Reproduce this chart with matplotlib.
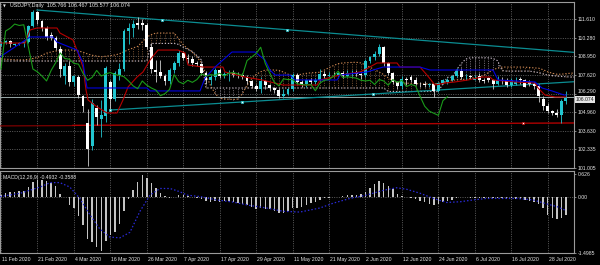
import matplotlib
matplotlib.use('Agg')
import matplotlib.pyplot as plt
import matplotlib.transforms as mtrans
import numpy as np

plt.rcParams['font.family'] = ['Liberation Sans', 'DejaVu Sans']

# ---------------- data ----------------
SYMBOL = 'USDJPY,Daily'
LAST_OHLC = '105.766 106.467 105.577 106.074'
DATES = ['11 Feb 2020', '21 Feb 2020', '4 Mar 2020', '16 Mar 2020', '26 Mar 2020',
         '7 Apr 2020', '17 Apr 2020', '29 Apr 2020', '11 May 2020', '21 May 2020',
         '2 Jun 2020', '12 Jun 2020', '24 Jun 2020', '6 Jul 2020', '16 Jul 2020', '28 Jul 2020']
DATE_BARS = [0, 8, 16, 24, 32, 40, 48, 56, 64, 72, 80, 88, 96, 104, 112, 120]

OPEN = [109.78, 109.92, 110.06, 109.76, 109.80, 109.88, 109.95, 111.12, 112.08, 111.45,
        110.95, 110.45, 110.25, 109.50, 107.55, 108.30, 107.15, 107.50, 106.10, 104.20,
        102.60, 105.30, 104.50, 104.70, 107.10, 105.90, 107.60, 108.05, 110.75, 110.95,
        111.30, 111.35, 111.20, 109.65, 108.00, 107.85, 107.55, 107.20, 107.95, 108.50,
        109.20, 108.80, 108.75, 108.45, 108.40, 107.75, 107.25, 107.45, 107.95, 107.55,
        107.70, 107.80, 107.65, 107.60, 107.50, 107.20, 106.85, 106.65, 107.20, 106.90,
        106.70, 106.55, 106.15, 106.30, 106.60, 107.65, 107.15, 107.00, 107.25, 107.10,
        107.30, 107.70, 107.55, 107.65, 107.60, 107.75, 107.55, 107.75, 107.80, 107.70,
        107.60, 108.65, 108.90, 109.15, 109.60, 108.45, 107.75, 107.10, 106.85, 107.35,
        107.45, 107.30, 107.00, 106.95, 106.90, 106.95, 106.50, 107.05, 107.15, 107.30,
        107.55, 107.90, 107.45, 107.55, 107.30, 107.55, 107.30, 107.40, 107.25, 106.95,
        107.30, 107.25, 106.90, 106.95, 107.35, 107.25, 107.15, 106.95, 106.85, 105.90,
        105.40, 105.05, 104.90, 104.75, 105.766]
HIGH = [110.02, 110.15, 110.13, 109.90, 109.95, 110.05, 111.20, 112.23, 112.15, 111.52,
        111.10, 110.70, 110.40, 109.70, 108.50, 108.60, 107.65, 107.65, 106.20, 105.20,
        105.90, 105.50, 105.85, 108.30, 107.30, 107.90, 108.50, 110.90, 111.30, 111.55,
        111.72, 111.60, 111.30, 109.90, 108.70, 108.70, 107.70, 108.10, 108.65, 109.40,
        109.35, 109.10, 109.00, 108.60, 108.45, 107.90, 107.65, 108.10, 108.10, 107.85,
        107.95, 107.95, 107.85, 107.80, 107.60, 107.25, 106.95, 107.50, 107.30, 107.00,
        106.80, 106.70, 106.60, 106.70, 107.75, 107.75, 107.30, 107.35, 107.40, 107.40,
        108.05, 107.90, 107.85, 107.85, 107.85, 107.90, 107.95, 107.95, 107.95, 107.80,
        108.75, 109.00, 109.30, 109.85, 109.70, 108.55, 107.85, 107.20, 107.55, 107.50,
        107.65, 107.45, 107.10, 107.20, 107.05, 107.00, 107.10, 107.35, 107.40, 107.60,
        108.15, 108.15, 107.70, 107.65, 107.60, 107.75, 107.40, 107.50, 107.35, 107.55,
        107.45, 107.40, 107.40, 107.45, 107.45, 107.35, 107.30, 107.10, 106.95, 106.10,
        105.60, 105.10, 105.20, 105.90, 106.467]
LOW = [109.68, 109.85, 109.65, 109.70, 109.74, 109.65, 109.90, 111.05, 111.25, 110.75,
       110.10, 110.10, 109.40, 107.50, 107.00, 106.85, 106.85, 106.00, 105.00, 101.18,
       102.30, 104.10, 103.20, 104.30, 105.15, 105.80, 107.30, 107.90, 109.80, 110.30,
       110.90, 110.80, 109.50, 107.80, 107.10, 107.40, 106.90, 107.00, 107.80, 108.30,
       108.70, 108.50, 108.30, 108.30, 107.60, 107.00, 106.90, 107.30, 107.40, 107.40,
       107.20, 107.50, 107.40, 107.35, 107.00, 106.70, 106.50, 106.35, 106.60, 106.50,
       106.35, 105.98, 106.00, 106.20, 106.50, 107.00, 106.80, 106.80, 106.95, 107.00,
       107.20, 107.40, 107.45, 107.50, 107.55, 107.40, 107.50, 107.55, 107.55, 107.35,
       107.50, 108.50, 108.70, 109.00, 108.30, 107.60, 106.95, 106.60, 106.60, 106.90,
       107.15, 106.90, 106.80, 106.80, 106.75, 106.07, 106.40, 106.95, 107.00, 107.20,
       107.45, 107.35, 107.30, 107.40, 107.25, 107.15, 107.05, 107.10, 106.65, 106.90,
       107.00, 106.75, 106.80, 106.90, 107.00, 106.75, 106.85, 106.65, 105.70, 105.15,
       104.95, 104.75, 104.60, 104.19, 105.577]
CLOSE = [109.92, 110.06, 109.82, 109.84, 109.88, 109.95, 111.12, 112.08, 111.55, 110.95,
         110.30, 110.25, 109.55, 108.05, 108.30, 107.15, 107.55, 106.20, 105.40, 102.35,
         105.60, 104.60, 104.80, 108.10, 105.90, 107.75, 108.05, 110.75, 110.95, 111.25,
         111.15, 111.20, 109.65, 108.05, 107.85, 107.55, 107.20, 107.95, 108.50, 109.20,
         108.80, 108.75, 108.45, 108.40, 107.75, 107.25, 107.45, 107.95, 107.55, 107.70,
         107.80, 107.65, 107.60, 107.50, 107.20, 106.85, 106.65, 107.20, 106.90, 106.70,
         106.55, 106.15, 106.30, 106.60, 107.65, 107.15, 107.00, 107.25, 107.10, 107.30,
         107.70, 107.55, 107.65, 107.60, 107.75, 107.55, 107.75, 107.80, 107.70, 107.60,
         108.65, 108.90, 109.15, 109.60, 108.45, 107.75, 107.10, 106.85, 107.35, 107.30,
         107.30, 107.00, 106.95, 106.90, 106.95, 106.50, 107.05, 107.25, 107.30, 107.55,
         107.90, 107.45, 107.50, 107.45, 107.40, 107.25, 107.20, 107.25, 106.95, 107.30,
         107.20, 106.90, 107.30, 107.10, 107.25, 106.80, 106.95, 106.85, 106.10, 105.40,
         105.05, 104.90, 104.75, 105.80, 106.074]

# Ichimoku lines (bar index, price)
TENKAN_X = [-0.22, 5.27, 6.37, 7.90, 12.29, 12.95, 15.80, 16.90, 18.00, 18.66, 19.10, 21.07,
            23.27, 25.46, 26.78, 27.88, 29.85, 31.17, 32.70, 34.46, 38.85, 40.39, 41.04, 44.34,
            48.73, 49.17, 53.56, 57.29, 61.90, 69.36, 70.02, 74.41, 78.80, 80.55, 82.53, 86.92,
            87.58, 91.97, 93.50, 95.26, 97.45, 99.65, 102.50, 105.57, 107.33, 107.99, 112.82,
            117.21, 117.87, 119.40, 121.60, 124.0]
TENKAN_Y = [109.90, 109.90, 110.83, 110.97, 110.97, 110.61, 110.12, 109.19, 108.19, 106.56,
            105.85, 105.35, 104.92, 104.92, 105.85, 106.77, 107.48, 107.84, 108.69, 109.40,
            109.40, 109.19, 108.34, 108.19, 108.19, 107.84, 107.48, 107.27, 106.91, 106.91,
            107.27, 107.62, 107.84, 108.12, 108.48, 108.48, 108.19, 108.19, 107.62, 106.91,
            107.05, 107.13, 107.27, 107.48, 107.48, 107.27, 107.13, 107.05, 106.70, 106.20,
            106.06, 106.06]
KIJUN_X = [-0.22, 6.37, 11.41, 12.29, 16.68, 18.00, 18.88, 32.05, 32.70, 43.68, 44.78, 46.97,
           50.70, 55.75, 57.95, 59.04, 60.14, 63.43, 64.53, 73.75, 74.41, 80.33, 83.85, 91.97,
           94.16, 107.99, 109.09, 117.21, 118.75, 120.94, 123.57, 124.0]
KIJUN_Y = [108.91, 110.33, 110.33, 109.97, 109.40, 108.48, 106.70, 106.70, 106.49, 106.49,
           107.41, 108.19, 109.26, 109.26, 108.69, 107.98, 107.62, 107.62, 107.27, 107.27,
           107.62, 107.84, 108.19, 108.19, 107.98, 107.98, 107.27, 107.13, 106.70, 106.49,
           106.20, 106.20]
CHIKOU_SHIFT = 26
SPAN_A = [108.76, 108.75, 108.73, 108.71, 108.70, 108.70, 108.74, 108.80, 108.87, 109.03,
          109.18, 109.26, 109.33, 109.38, 109.40, 109.40, 109.40, 109.33, 109.25, 109.12,
          109.03, 108.97, 108.92, 108.96, 109.00, 109.05, 109.13, 109.28, 109.43, 109.55,
          109.66, 109.98, 110.33, 110.50, 110.61, 110.61, 110.61, 110.61, 110.61, 110.20,
          109.77, 109.50, 109.24, 108.90, 108.50, 107.60, 106.87, 106.30, 105.97, 105.92,
          105.90, 105.88, 105.91, 106.30, 106.90, 107.35, 107.66, 107.85, 107.98, 107.98,
          107.98, 107.95, 107.83, 107.68, 107.58, 107.62, 107.68, 107.74, 107.78, 107.80,
          107.82, 107.98, 108.15, 108.30, 108.43, 108.48, 108.50, 108.52, 108.53, 108.48,
          108.35, 108.18, 108.00, 107.84, 107.65, 107.42, 107.21, 107.10, 107.05, 107.04,
          107.03, 107.01, 107.00, 106.99, 106.98, 107.00, 107.03, 107.10, 107.16, 107.23,
          107.29, 107.31, 107.32, 107.38, 107.44, 107.50, 107.60, 107.80, 108.00, 108.12,
          108.19, 108.19, 108.19, 108.19, 108.19, 108.18, 108.16, 108.13, 108.11, 108.00,
          107.85, 107.75, 107.68, 107.68, 107.72, 107.75, 107.77]
SPAN_B = [108.62, 108.62, 108.62, 108.62, 108.62, 108.62, 108.62, 108.62, 108.62, 108.62,
          108.62, 108.62, 108.62, 108.62, 108.62, 108.62, 108.62, 108.62, 108.62, 108.62,
          108.62, 108.62, 108.62, 108.62, 108.62, 108.62, 108.62, 108.62, 108.62, 108.62,
          108.62, 108.62, 108.62, 109.87, 109.87, 109.87, 109.87, 109.87, 109.87, 109.80,
          109.60, 109.45, 109.30, 109.00, 108.70, 106.70, 106.70, 106.70, 106.70, 106.70,
          106.70, 106.70, 106.70, 106.70, 106.70, 106.70, 106.70, 106.70, 106.70, 106.70,
          106.70, 106.70, 106.70, 106.70, 106.70, 106.70, 106.70, 106.70, 106.70, 106.70,
          106.70, 106.70, 106.70, 106.70, 106.70, 106.70, 106.70, 106.70, 106.70, 106.70,
          106.70, 106.70, 106.70, 106.70, 106.70, 106.45, 106.45, 106.45, 106.45, 106.45,
          106.45, 106.45, 106.45, 106.45, 106.45, 106.45, 106.45, 107.00, 107.46, 107.46,
          108.00, 108.43, 108.76, 108.85, 108.85, 108.85, 108.85, 108.85, 108.80, 108.64,
          107.94, 107.90, 107.90, 107.90, 107.90, 107.90, 107.90, 107.85, 107.80, 107.70,
          107.62, 107.58, 107.55, 107.52, 107.50, 107.48, 107.48]

# drawn objects (bar index, price)
TL_UP_X, TL_UP_Y = [7.9, 126.0], [112.25, 109.23]
TL_UP_PTS_X, TL_UP_PTS_Y = [35.3, 62.8], [111.55, 110.85]
TL_LO_X, TL_LO_Y = [23.9, 126.0], [105.13, 107.15]
TL_LO_PTS_X, TL_LO_PTS_Y = [23.9, 52.9, 81.6], [105.13, 105.70, 106.27]
RED_H_X, RED_H_Y = [-0.22, 15.8], [104.00, 104.02]
RED_T_X, RED_T_Y = [15.8, 126.0], [104.04, 104.21]
RED_PT_X, RED_PT_Y = [114.6], [104.19]
LAST_PRICE = 106.074
PRICE_TICKS = [111.610, 110.280, 108.950, 107.620, 106.290, 104.960, 103.630, 102.335, 101.005]

# MACD(12,26,9): main (histogram) per bar, signal (dotted) vertices
MACD = [0.05, 0.13, 0.14, 0.15, 0.16, 0.17, 0.28, 0.41, 0.46, 0.48,
        0.44, 0.40, 0.31, 0.10, 0.02, -0.20, -0.28, -0.52, -0.76, -1.12,
        -1.20, -1.35, -1.45, -1.18, -1.02, -0.95, -0.72, -0.38, -0.05, 0.20,
        0.42, 0.60, 0.52, 0.38, 0.25, 0.12, 0.04, -0.02, 0.01, 0.05,
        0.05, 0.03, 0.01, -0.01, -0.04, -0.09, -0.12, -0.10, -0.12, -0.11,
        -0.11, -0.13, -0.16, -0.18, -0.22, -0.27, -0.31, -0.29, -0.31, -0.33,
        -0.38, -0.42, -0.42, -0.38, -0.30, -0.28, -0.27, -0.22, -0.16, -0.12,
        -0.07, -0.03, -0.02, 0.00, 0.02, 0.03, 0.05, 0.06, 0.06, 0.08,
        0.15, 0.26, 0.35, 0.44, 0.38, 0.31, 0.22, 0.10, 0.04, 0.01,
        -0.02, -0.05, -0.10, -0.14, -0.17, -0.21, -0.19, -0.14, -0.10, -0.07,
        -0.02, 0.01, 0.00, -0.01, -0.02, -0.02, -0.01, -0.02, -0.03, -0.02,
        -0.03, -0.04, -0.03, -0.04, -0.05, -0.08, -0.11, -0.12, -0.18, -0.30,
        -0.47, -0.56, -0.58, -0.55, -0.4932]
SIG_X = [-0.2, 4.2, 8.6, 10.8, 12.9, 15.1, 17.3, 19.5, 21.7, 23.9, 26.1, 28.3, 30.5, 32.7,
         34.9, 37.1, 39.3, 40.8, 43.7, 47.3, 51.0, 54.6, 58.3, 62.0, 65.6, 70.0, 72.9, 76.6,
         80.2, 83.9, 86.8, 89.0, 92.0, 94.9, 97.8, 100.8, 103.7, 106.6, 109.5, 113.2, 116.8,
         119.8, 122.0, 124.0]
SIG_Y = [0.02, 0.11, 0.28, 0.40, 0.40, 0.28, -0.03, -0.47, -0.86, -1.08, -1.10, -0.95, -0.38,
         0.06, 0.24, 0.24, 0.15, 0.06, 0.02, -0.07, -0.13, -0.22, -0.29, -0.38, -0.40, -0.29,
         -0.16, -0.03, 0.06, 0.19, 0.26, 0.22, 0.11, -0.03, -0.14, -0.12, -0.07, -0.03, -0.03,
         -0.03, -0.07, -0.18, -0.25, -0.3588]
MACD_TICKS = [0.626, 0.0, -1.4985]
MACD_TICK_LABELS = ['0.626', '0.00', '-1.4985']
MACD_LABEL = 'MACD(12,26,9) -0.4932 -0.3588'

# ---------------- style ----------------
BG = '#000000'
FG = '#e6e6e6'
GRID = '#6a6a6a'
FRAME = '#9a9a9a'
UPC = '#22c6d0'
DNC = '#ffffff'
TEAL = '#0b8d92'
DOT = (0, (1.2, 1.6))
FS = 3.7

W, H = 600, 265
def box(l, t, r, b):
    return [l / W, 1 - b / H, (r - l) / W, (b - t) / H]

fig = plt.figure(figsize=(6, 2.65), dpi=100, facecolor=BG)
ax = fig.add_axes(box(0, 2, 574, 168), facecolor=BG)
axm = fig.add_axes(box(0, 171, 574, 253), facecolor=BG, sharex=ax)

XMIN, XMAX = -1 / 4.556, 573 / 4.556
ax.set_xlim(XMIN, XMAX)
ax.set_ylim(101.005, 112.82)
axm.set_ylim(-1.512, 0.715)

for a in (ax, axm):
    for s in a.spines.values():
        s.set_color(FRAME)
        s.set_linewidth(0.8)
    a.set_xticks(DATE_BARS)
    a.grid(True, color=GRID, linestyle=DOT, linewidth=0.6)
    a.set_axisbelow(True)
    a.yaxis.tick_right()
    a.tick_params(axis='y', colors=FRAME, labelcolor=FG, labelsize=FS, length=1.5, width=0.6, pad=1)

ax.tick_params(axis='x', length=0, labelbottom=False)
axm.tick_params(axis='x', length=0, labelsize=FS, labelcolor=FG, pad=3.2)
axm.set_xticklabels(DATES, ha='left')
offset = mtrans.ScaledTranslation(1.0 / 100, 0, fig.dpi_scale_trans)
for lab in axm.get_xticklabels():
    lab.set_transform(lab.get_transform() + offset)

ax.set_yticks(PRICE_TICKS)
ax.set_yticklabels(['%.3f' % v for v in PRICE_TICKS])
# the label right above the current-price box sits just above its tick, as in the reference
for lab, v in zip(ax.get_yticklabels(), PRICE_TICKS):
    if abs(v - LAST_PRICE) < 0.5:
        lab.set_va('bottom')
axm.set_yticks(MACD_TICKS)
axm.set_yticklabels(MACD_TICK_LABELS)
axm.yaxis.grid(False)
axm.axhline(0, color=GRID, linestyle=DOT, linewidth=0.6, zorder=1)

x = np.arange(len(CLOSE))
o, h, l, c = (np.array(v) for v in (OPEN, HIGH, LOW, CLOSE))
up = c >= o

# cloud
A = np.array(SPAN_A)
B = np.array(SPAN_B)
xc = np.arange(len(A))
ab = A >= B
ax.vlines(xc[ab], B[ab], A[ab], colors='#8a5e3a', linestyles=DOT, linewidth=0.6, zorder=2)
ax.vlines(xc[~ab], A[~ab], B[~ab], colors='#8c828c', linestyles=DOT, linewidth=0.6, zorder=2)
ax.plot(xc, A, color='#c88450', linestyle=DOT, linewidth=0.8, zorder=3)
ax.plot(xc, B, color='#c0b4c0', linestyle=DOT, linewidth=0.8, zorder=3)

# price line and horizontal objects
ax.axhline(LAST_PRICE, color='#98a8a8', linewidth=0.7, zorder=3)
ax.plot(RED_H_X, RED_H_Y, color='#8a0000', linewidth=0.8, zorder=3)
ax.plot(RED_T_X, RED_T_Y, color='#b00000', linewidth=1.0, zorder=3)
ax.plot(RED_PT_X, RED_PT_Y, linestyle='none', marker='s', ms=1.8, mfc='#ffffff', mec='#c00000', mew=0.5, zorder=9)

# trendlines
ax.plot(TL_UP_X, TL_UP_Y, color=TEAL, linewidth=0.9, zorder=3)
ax.plot(TL_LO_X, TL_LO_Y, color=TEAL, linewidth=0.9, zorder=3)
ax.plot(TL_UP_PTS_X, TL_UP_PTS_Y, linestyle='none', marker='s', ms=1.8, mfc='#ffffff', mec='#20c8d0', mew=0.5, zorder=9)
ax.plot(TL_LO_PTS_X, TL_LO_PTS_Y, linestyle='none', marker='s', ms=1.8, mfc='#ffffff', mec='#20c8d0', mew=0.5, zorder=9)

# candles
ax.vlines(x[up], l[up], h[up], colors=UPC, linewidth=0.6, zorder=5)
ax.vlines(x[~up], l[~up], h[~up], colors='#cfcfcf', linewidth=0.6, zorder=5)
body_lo = np.minimum(o, c)
body_h = np.maximum(np.abs(c - o), 0.03)
ax.bar(x[up], body_h[up], bottom=body_lo[up], width=0.64, color=UPC, linewidth=0, zorder=6)
ax.bar(x[~up], body_h[~up], bottom=body_lo[~up], width=0.64, color=DNC, linewidth=0, zorder=6)

# ichimoku lines
ax.plot(TENKAN_X, TENKAN_Y, color='#b80000', linewidth=0.8, zorder=7)
ax.plot(KIJUN_X, KIJUN_Y, color='#0000e0', linewidth=0.8, zorder=7)
ax.plot(x[:-CHIKOU_SHIFT], c[CHIKOU_SHIFT:], color='#1a9a1a', linewidth=0.8, zorder=7)

# current price box
trans = mtrans.blended_transform_factory(ax.transAxes, ax.transData)
ax.text(1.003, LAST_PRICE, '%.3f' % LAST_PRICE, transform=trans, fontsize=FS, color='#202020',
        ha='left', va='top', clip_on=False, zorder=20,
        bbox=dict(boxstyle='square,pad=0.2', facecolor='#e4e4e4', edgecolor='none'))

# titles
fig.text(3 / W, 1 - 6 / H, '\u25bc', fontsize=2.6, color=FG, ha='left', va='center',
         family=['DejaVu Sans'])
fig.text(10 / W, 1 - 6 / H, SYMBOL + '  ' + LAST_OHLC, fontsize=3.9, color=FG, ha='left', va='center')

# MACD
axm.bar(x, MACD, width=0.32, color='#c4c4c4', linewidth=0, zorder=4)
axm.plot(SIG_X, SIG_Y, color='#2a2ad8', linestyle=DOT, linewidth=0.9, zorder=5)
fig.text(3 / W, 1 - 177.5 / H, MACD_LABEL, fontsize=3.7, color=FG, ha='left', va='center')

fig.savefig('out.png', dpi=100, facecolor=BG)
